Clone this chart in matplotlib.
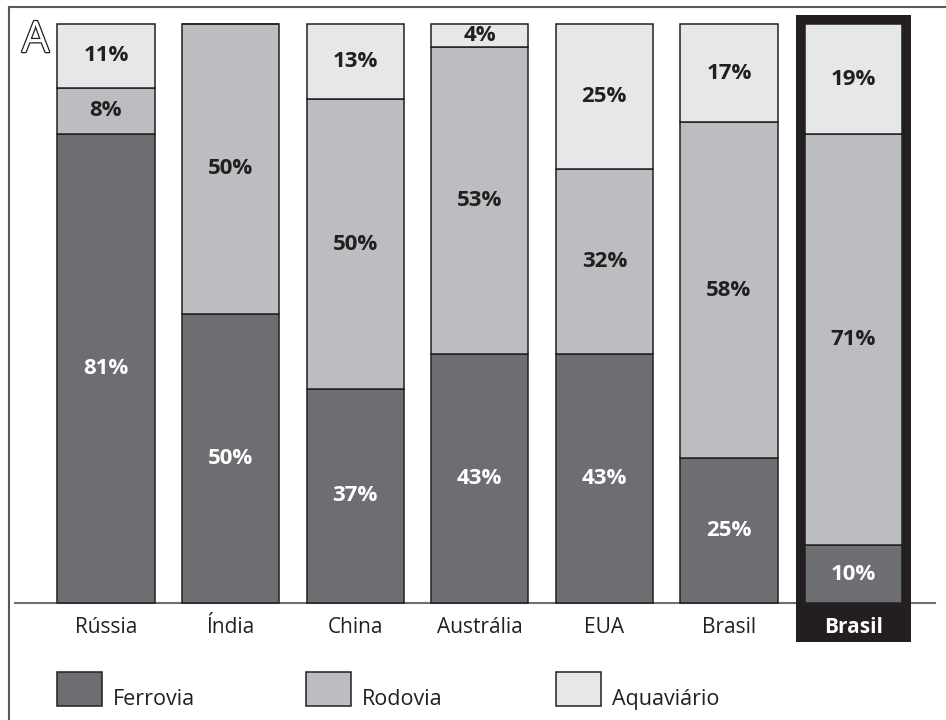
import matplotlib
matplotlib.use("Agg")
import matplotlib.pyplot as plt
from matplotlib.patches import Rectangle
from matplotlib.lines import Line2D
import matplotlib.patheffects as pe
import numpy as np

categories = ["Rússia", "Índia", "China", "Austrália", "EUA", "Brasil", "Brasil"]
ferrovia = [81, 50, 37, 43, 43, 25, 10]
rodovia = [8, 50, 50, 53, 32, 58, 71]
aquaviario = [11, 0, 13, 4, 25, 17, 19]
series_names = ["Ferrovia", "Rodovia", "Aquaviário"]

colors = ["#6d6e71", "#bcbdc0", "#e6e7e8"]
edge = "#231f20"
fam = ["Open Sans", "DejaVu Sans"]

W, H = 946, 720
fig = plt.figure(figsize=(W / 100, H / 100), dpi=100)
fig.patch.set_facecolor("white")

def fx(px):
    return px / W

def fy(py):
    return 1 - py / H

ax = fig.add_axes([fx(15), fy(603), fx(935) - fx(15), fy(24) - fy(603)])
x = np.arange(len(categories))
ax.set_xlim(-0.730, 6.654)
ax.set_ylim(0, 100)
for s in ["top", "right", "left"]:
    ax.spines[s].set_visible(False)
ax.spines["bottom"].set_color("#6d6e71")
ax.spines["bottom"].set_linewidth(1.5)
ax.spines["bottom"].set_zorder(2)
ax.set_yticks([])
ax.set_xticks([])

# highlight box behind last bar
hl = len(categories) - 1
ax.add_patch(Rectangle((hl - 0.465, -6.7), 0.93, 101.55 + 6.7, facecolor=edge,
                       edgecolor="none", zorder=3, clip_on=False))

width = 0.78
stacks = [ferrovia, rodovia, aquaviario]
bottom = np.zeros(len(categories))
for i, vals in enumerate(stacks):
    vals = np.array(vals, dtype=float)
    ax.bar(x, vals, width, bottom=bottom, color=colors[i], edgecolor=edge,
           linewidth=1.1, zorder=4, clip_on=False)
    for xi, v, b in zip(x, vals, bottom):
        if v > 0:
            ax.text(xi, b + v / 2, f"{int(v)}%", ha="center", va="center",
                    fontsize=16, fontweight="bold", family=fam,
                    color="white" if i == 0 else edge, zorder=5)
    bottom += vals

# category labels
for xi, c in zip(x, categories):
    if xi == hl:
        ax.text(xi, -4.3, c, ha="center", va="center", fontsize=15,
                fontweight="bold", family=fam, color="white", zorder=5,
                clip_on=False)
    else:
        ax.text(xi, -4.3, c, ha="center", va="center", fontsize=15,
                family=fam, color=edge, zorder=5, clip_on=False)

# legend
leg_x = [57, 306, 556]
for lx, name, col in zip(leg_x, series_names, colors):
    fig.add_artist(Rectangle((fx(lx), fy(706)), fx(45), fy(672) - fy(706),
                             facecolor=col, edgecolor=edge, linewidth=1.1,
                             transform=fig.transFigure))
    fig.text(fx(lx + 56), fy(705), name, ha="left", va="baseline",
             fontsize=15.5, family=fam, color=edge)

# frame lines
fig.add_artist(Line2D([fx(9), 1], [fy(7), fy(7)], color="#58595b", lw=1.5,
                      transform=fig.transFigure))
fig.add_artist(Line2D([fx(9), fx(9)], [fy(7), 0], color="#58595b", lw=1.5,
                      transform=fig.transFigure))

# panel letter
t = fig.text(fx(22), fy(52), "A", ha="left", va="baseline", fontsize=31,
             family=fam, color="white")
t.set_path_effects([pe.Stroke(linewidth=1.8, foreground=edge), pe.Normal()])

fig.savefig("out.png", dpi=100)
